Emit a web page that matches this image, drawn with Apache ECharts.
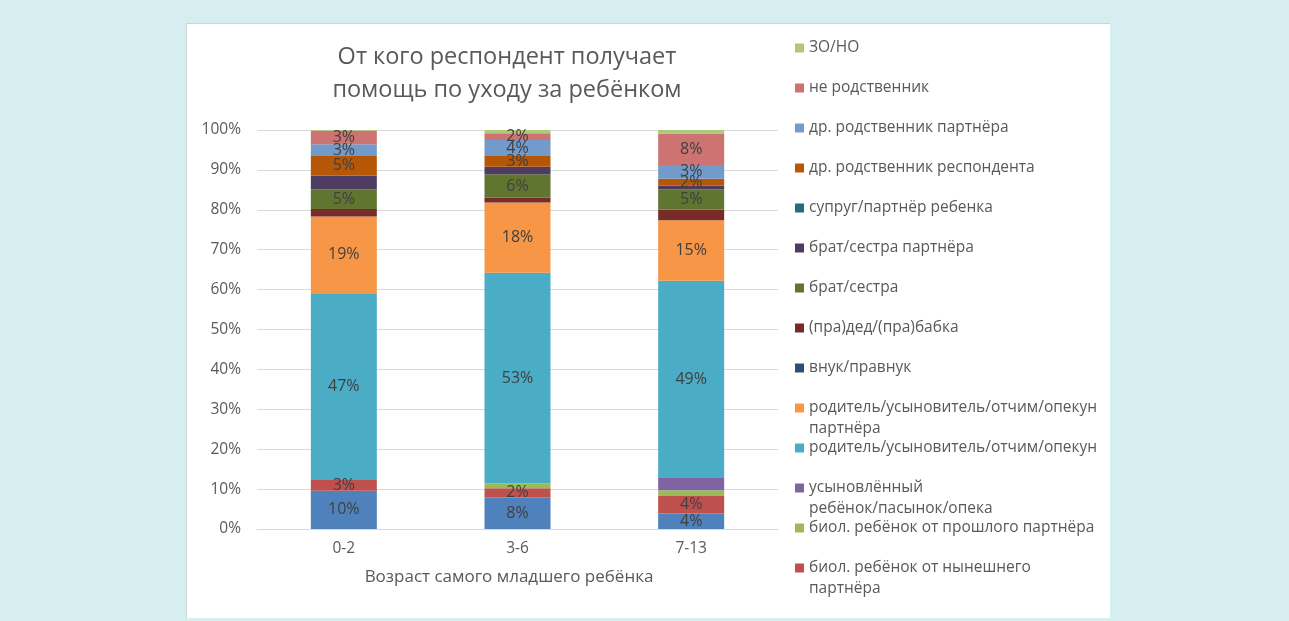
<!DOCTYPE html>
<html>
<head>
<meta charset="utf-8">
<script src="https://cdn.jsdelivr.net/npm/echarts@6/dist/echarts.min.js"></script>
<style>
	html, body { margin: 0; padding: 0; background: #d6eef0; }
	#panel {
		position: absolute; left: 186px; top: 23px; width: 923px; height: 594px;
		background: #fff; border-left: 1px solid #d4d4d4; border-top: 1px solid #d4d4d4;
	}
	#chart { position: absolute; left: 0; top: 0; width: 1289px; height: 621px; }
</style>
</head>
<body>
<div id="panel"></div>
<div id="chart"></div>
<script>
// age groups of the youngest child
const categories = ['0-2', '3-6', '7-13'];

// series, bottom to top of the stack
const seriesNames = [
	'ребёнок респондента',
	'биол. ребёнок от нынешнего партнёра',
	'биол. ребёнок от прошлого партнёра',
	'усыновлённый ребёнок/пасынок/опека',
	'родитель/усыновитель/отчим/опекун',
	'родитель/усыновитель/отчим/опекун партнёра',
	'внук/правнук',
	'(пра)дед/(пра)бабка',
	'брат/сестра',
	'брат/сестра партнёра',
	'супруг/партнёр ребенка',
	'др. родственник респондента',
	'др. родственник партнёра',
	'не родственник',
	'ЗО/НО',
];

// how the legend wraps the long names
const legendText = {
	'родитель/усыновитель/отчим/опекун партнёра': 'родитель/усыновитель/отчим/опекун\nпартнёра',
	'усыновлённый ребёнок/пасынок/опека': 'усыновлённый\nребёнок/пасынок/опека',
	'биол. ребёнок от нынешнего партнёра': 'биол. ребёнок от нынешнего\nпартнёра',
};

const colors = [
	'#4f81bd', '#c0504d', '#9bbb59', '#8064a2', '#4bacc6', '#f79646', '#2c4d75',
	'#772c2a', '#5f7530', '#4d3b62', '#276a7c', '#b65708', '#729aca', '#cd7371', '#afc97a',
];

// share in % per series, one value for each age group
const values = [
	[9.6, 7.9, 3.9],
	[2.7, 2.3, 4.4],
	[0, 1.2, 1.4],
	[0, 0, 3.3],
	[46.8, 52.8, 49.2],
	[19.2, 17.6, 15.2],
	[0, 0, 0],
	[1.9, 1.2, 2.6],
	[4.9, 5.9, 5.1],
	[3.5, 1.9, 0.9],
	[0, 0, 0],
	[4.9, 2.7, 1.8],
	[2.9, 4.0, 3.4],
	[3.4, 1.7, 7.9],
	[0.2, 0.8, 1.0],
];

// series that carry data labels
const labelled = [0, 1, 4, 5, 8, 11, 12, 13];

const yTicks = [0, 10, 20, 30, 40, 50, 60, 70, 80, 90, 100];

const font = 'Open Sans';

var chartDom = document.getElementById('chart');
var myChart = echarts.init(chartDom);

// one legend per entry so each sits on its own row
let legends = [];
let shown = seriesNames.slice(1).reverse();
shown.forEach((name, i) => {
	let center = 48 + 40 * i;
	let text = legendText[name] || name;
	let twoLines = text.indexOf('\n') > -1;
	// an empty first line keeps the marker level with the first line of text
	if (twoLines) text = '\n' + text;
	legends.push({
		data: [name],
		left: 795,
		top: twoLines ? center - 31.5 : center - 10.5,
		padding: 0,
		itemWidth: 9,
		itemHeight: 9,
		itemGap: 0,
		itemTextGap: 5,
		icon: 'rect',
		selectedMode: false,
		formatter: () => text,
		textStyle: {
			color: '#595959',
			fontSize: 15.5,
			fontFamily: font,
			lineHeight: 21,
		},
	});
});

let series = seriesNames.map((name, k) => ({
	name: name,
	type: 'bar',
	stack: 'all',
	barWidth: 66,
	color: colors[k],
	data: values[k],
	label: {
		show: labelled.indexOf(k) > -1,
		position: 'inside',
		color: '#404040',
		fontSize: 16,
		fontFamily: font,
		formatter: (p) => Math.round(p.value) + '%',
	},
}));

var option = {
	animation: false,
	title: {
		text: 'От кого респондент получает\nпомощь по уходу за ребёнком',
		left: 507,
		top: 41,
		padding: 0,
		textAlign: 'center',
		textStyle: {
			color: '#595959',
			fontSize: 23.5,
			fontWeight: 'normal',
			fontFamily: font,
			lineHeight: 33,
		},
	},
	legend: legends,
	grid: { left: 257, right: 511, top: 130, bottom: 92, containLabel: false },
	xAxis: {
		type: 'category',
		data: categories,
		name: 'Возраст самого младшего ребёнка',
		nameLocation: 'middle',
		nameGap: 40,
		nameTextStyle: { color: '#595959', fontSize: 17, fontFamily: font, padding: [0, 17, 0, 0] },
		axisLine: { lineStyle: { color: '#d9d9d9', width: 1 } },
		axisTick: { show: false },
		axisLabel: { color: '#595959', fontSize: 15.5, fontFamily: font, margin: 12 },
	},
	yAxis: {
		type: 'value',
		min: yTicks[0],
		max: yTicks[yTicks.length - 1],
		interval: 10,
		axisLine: { show: false },
		axisTick: { show: false },
		splitLine: { lineStyle: { color: '#d9d9d9', width: 1 } },
		axisLabel: { color: '#595959', fontSize: 15.5, fontFamily: font, margin: 16, formatter: '{value}%' },
	},
	series: series,
};
option && myChart.setOption(option);
</script>
</body>
</html>
